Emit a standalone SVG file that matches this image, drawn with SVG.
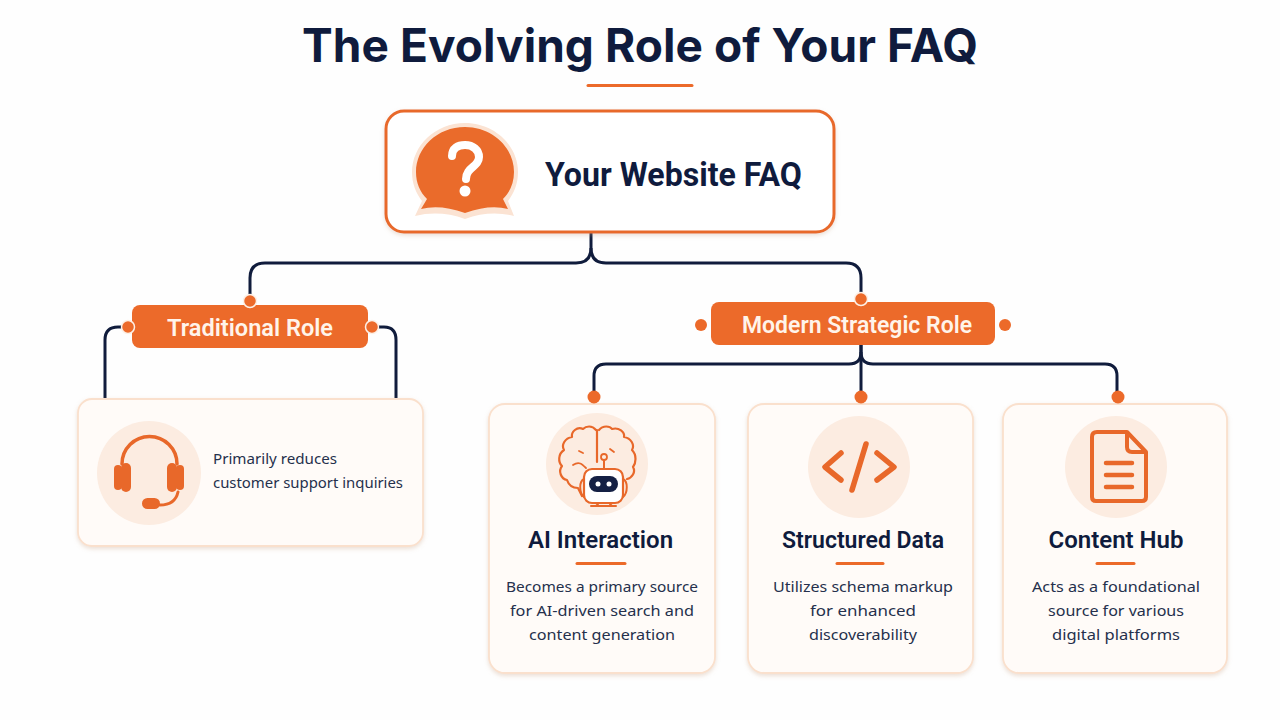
<svg xmlns="http://www.w3.org/2000/svg" width="1280" height="720" viewBox="0 0 1280 720">
<style>
.t{font-family:"Inter","Noto Sans",sans-serif}
.r{font-family:"Roboto","Liberation Sans",sans-serif}
.h{font-family:"Roboto","Liberation Sans",sans-serif;font-weight:600;font-size:24px;fill:#0f1b3d;text-anchor:middle}
.b{font-family:"Noto Sans","Liberation Sans",sans-serif;font-size:15.300px;fill:#25304c;text-anchor:middle}
.pill{fill:#ec6a2a}
.pt{font-family:"Roboto","Liberation Sans",sans-serif;font-weight:600;font-size:24px;fill:#fff4ea;text-anchor:middle}
.card{fill:#fffbf8;stroke:#fae0cd;stroke-width:1.800}
.disc{fill:#fcecE1}
.dot{fill:#ec6a2a}
.dw{fill:#ec6a2a;stroke:#fdf0e6;stroke-width:1.500}
.cn{fill:none;stroke:#101c3c;stroke-width:3}
.ic{fill:none;stroke:#e8682a;stroke-linecap:round;stroke-linejoin:round}
.rule{stroke:#ec6a2a;stroke-width:3;stroke-linecap:round}
</style>
<defs>
<filter id="s" x="-5%" y="-5%" width="110%" height="115%"><feDropShadow dx="0" dy="2" stdDeviation="2" flood-color="#c9a58c" flood-opacity=".35"/></filter>
</defs>
<rect width="1280" height="720" fill="#fefefe"/>
<g id="title">
<text class="t" x="640" y="62" font-size="46" font-weight="700" fill="#0f1b3d" text-anchor="middle" textLength="676" lengthAdjust="spacing">The Evolving Role of Your FAQ</text>
<line x1="588" y1="85.500" x2="692" y2="85.500" class="rule"/>
</g>
<g id="connectors">
<path class="cn" d="M591 233V248Q591 263 576 263H265Q250 263 250 278V300"/>
<path class="cn" d="M591 248Q591 263 606 263H846Q861 263 861 278V298"/>
<path class="cn" d="M132 327H118Q105 327 105 340V398"/>
<path class="cn" d="M372 327H384Q396 327 396 340V398"/>
<path class="cn" d="M861 345V352Q861 364 849 364H606Q594 364 594 376V396"/>
<path class="cn" d="M861 345V396"/>
<path class="cn" d="M861 352Q861 364 873 364H1105Q1117 364 1117 376V396"/>
</g>
<g id="root">
<rect x="386" y="111" width="448" height="121" rx="18" fill="#fff" stroke="#e8692c" stroke-width="3" filter="url(#s)"/>
<path d="M465 123C495 123 518 146 518 172C518 184 514 193 508 201L514 216Q490 210 465 219Q440 210 415 216L422 201C416 193 412 184 412 172C412 146 435 123 465 123Z" fill="#fbe3d3"/>
<path d="M465 127C493 127 514 148 514 172C514 183 510 192 503 199L508 209Q490 204 465 213Q440 204 421 209L427 199C420 192 416 183 416 172C416 148 437 127 465 127Z" fill="#ea6b2b"/>
<path d="M452 156C452 148 458 145 465 145C473 145 479 150 479 157C479 167 466 167 466 179" fill="none" stroke="#fff" stroke-width="8" stroke-linecap="round"/>
<circle cx="465" cy="191" r="5.500" fill="#fff"/>
<text class="r" x="673.500" y="186" font-size="33" font-weight="700" fill="#0f1b3d" text-anchor="middle" textLength="257" lengthAdjust="spacingAndGlyphs">Your Website FAQ</text>
</g>
<g id="traditional">
<rect class="pill" x="132" y="305" width="236" height="43" rx="8"/>
<text class="pt" x="250" y="336" textLength="166" lengthAdjust="spacingAndGlyphs">Traditional Role</text>
<circle class="dw" cx="250" cy="301" r="6.500"/>
<circle class="dw" cx="128" cy="327" r="6.500"/>
<circle class="dw" cx="372" cy="327" r="6.500"/>
</g>
<g id="modern">
<rect class="pill" x="711" y="302" width="284" height="43" rx="8"/>
<text class="pt" x="857" y="333" textLength="230" lengthAdjust="spacingAndGlyphs">Modern Strategic Role</text>
<circle class="dw" cx="861" cy="299" r="6.500"/>
<circle class="dot" cx="701" cy="325" r="6"/>
<circle class="dot" cx="1005" cy="325" r="6"/>
</g>
<g id="card-support">
<rect class="card" x="78" y="399" width="345" height="147" rx="14" filter="url(#s)"/>
<circle class="disc" cx="149" cy="473" r="52"/>
<path class="ic" stroke-width="3.500" d="M122 464A27.500 27.500 0 0 1 177 464"/>
<rect x="114" y="465" width="8" height="25" rx="4" fill="#e8682a"/>
<rect x="121" y="463" width="10" height="29" rx="5" fill="#e8682a"/>
<rect x="167" y="463" width="10" height="29" rx="5" fill="#e8682a"/>
<rect x="176" y="465" width="8" height="25" rx="4" fill="#e8682a"/>
<path class="ic" stroke-width="3" d="M178 492C176 501 170 505 160 505"/>
<rect x="142" y="498" width="18" height="11" rx="5.500" fill="#e8682a"/>
<text class="b" style="text-anchor:start" x="213" y="464" textLength="124" lengthAdjust="spacingAndGlyphs">Primarily reduces</text>
<text class="b" style="text-anchor:start" x="213" y="488" textLength="190" lengthAdjust="spacingAndGlyphs">customer support inquiries</text>
</g>
<g id="card-ai">
<rect class="card" x="489" y="404" width="226" height="269" rx="16" filter="url(#s)"/>
<circle class="dot" cx="594" cy="397" r="6.500"/>
<circle class="disc" cx="597" cy="464" r="51"/>
<path class="ic" stroke-width="2.200" d="M597 430V462M596 430C592 425 586 426 583 429C577 426 571 432 572 437C565 438 561 445 564 450C558 454 558 462 562 466C558 471 561 479 567 480C569 486 574 488 578 488L582 496M599 430C603 425 610 426 612 429C619 427 625 432 624 437C631 438 635 445 632 450C637 455 636 463 633 467C636 472 632 478 627 479"/>
<path class="ic" stroke-width="1.800" d="M573 465C579 461 582 464 586 468M579 451L583 453M614 452L610 449"/>
<line x1="604" y1="470" x2="604" y2="461" class="ic" stroke-width="2"/>
<circle cx="604" cy="457" r="3" fill="none" stroke="#e8682a" stroke-width="1.800"/>
<rect x="584" y="469" width="39" height="34" rx="8" fill="#fff" stroke="#e8682a" stroke-width="2.200"/>
<path class="ic" stroke-width="2" d="M584 479C579 481 579 493 584 497M623 479C628 481 628 493 623 497M598 504L596 506M610 504L612 506M591 506H616"/>
<rect x="589" y="476" width="29" height="16" rx="8" fill="#142044"/>
<circle cx="598" cy="484" r="2.500" fill="#fff"/><circle cx="609" cy="484" r="2.500" fill="#fff"/>
<text class="h" x="600.500" y="548">AI Interaction</text>
<line x1="577" y1="563.500" x2="625" y2="563.500" class="rule"/>
<text class="b" x="602" y="592" textLength="192" lengthAdjust="spacingAndGlyphs">Becomes a primary source</text>
<text class="b" x="602" y="616" textLength="184" lengthAdjust="spacingAndGlyphs">for AI-driven search and</text>
<text class="b" x="602" y="640" textLength="146" lengthAdjust="spacingAndGlyphs">content generation</text>
</g>
<g id="card-data">
<rect class="card" x="748" y="404" width="225" height="269" rx="16" filter="url(#s)"/>
<circle class="dot" cx="861" cy="397" r="6.500"/>
<circle class="disc" cx="859" cy="467" r="51"/>
<path class="ic" stroke-width="5.500" d="M841 453L825 467L841 480M877 453L894 467L877 480M866 444L852 490"/>
<text class="h" x="863" y="548" textLength="162" lengthAdjust="spacingAndGlyphs">Structured Data</text>
<line x1="837" y1="563.500" x2="883" y2="563.500" class="rule"/>
<text class="b" x="863" y="592" textLength="180" lengthAdjust="spacingAndGlyphs">Utilizes schema markup</text>
<text class="b" x="863" y="616" textLength="106" lengthAdjust="spacingAndGlyphs">for enhanced</text>
<text class="b" x="863" y="640" textLength="108" lengthAdjust="spacingAndGlyphs">discoverability</text>
</g>
<g id="card-hub">
<rect class="card" x="1003" y="404" width="224" height="269" rx="16" filter="url(#s)"/>
<circle class="dot" cx="1118" cy="397" r="6.500"/>
<circle class="disc" cx="1116" cy="467" r="51"/>
<path class="ic" stroke-width="4" d="M1097 432H1127L1146 452V497Q1146 501 1142 501H1096Q1092 501 1092 497V437Q1092 432 1097 432ZM1127 432V447Q1127 452 1132 452H1146"/>
<path class="ic" stroke-width="4.500" d="M1106 463H1132M1106 475H1132M1106 487H1132"/>
<text class="h" x="1116" y="548">Content Hub</text>
<line x1="1097" y1="563.500" x2="1134" y2="563.500" class="rule"/>
<text class="b" x="1116" y="592" textLength="168" lengthAdjust="spacingAndGlyphs">Acts as a foundational</text>
<text class="b" x="1116" y="616" textLength="136" lengthAdjust="spacingAndGlyphs">source for various</text>
<text class="b" x="1116" y="640" textLength="128" lengthAdjust="spacingAndGlyphs">digital platforms</text>
</g>
</svg>
